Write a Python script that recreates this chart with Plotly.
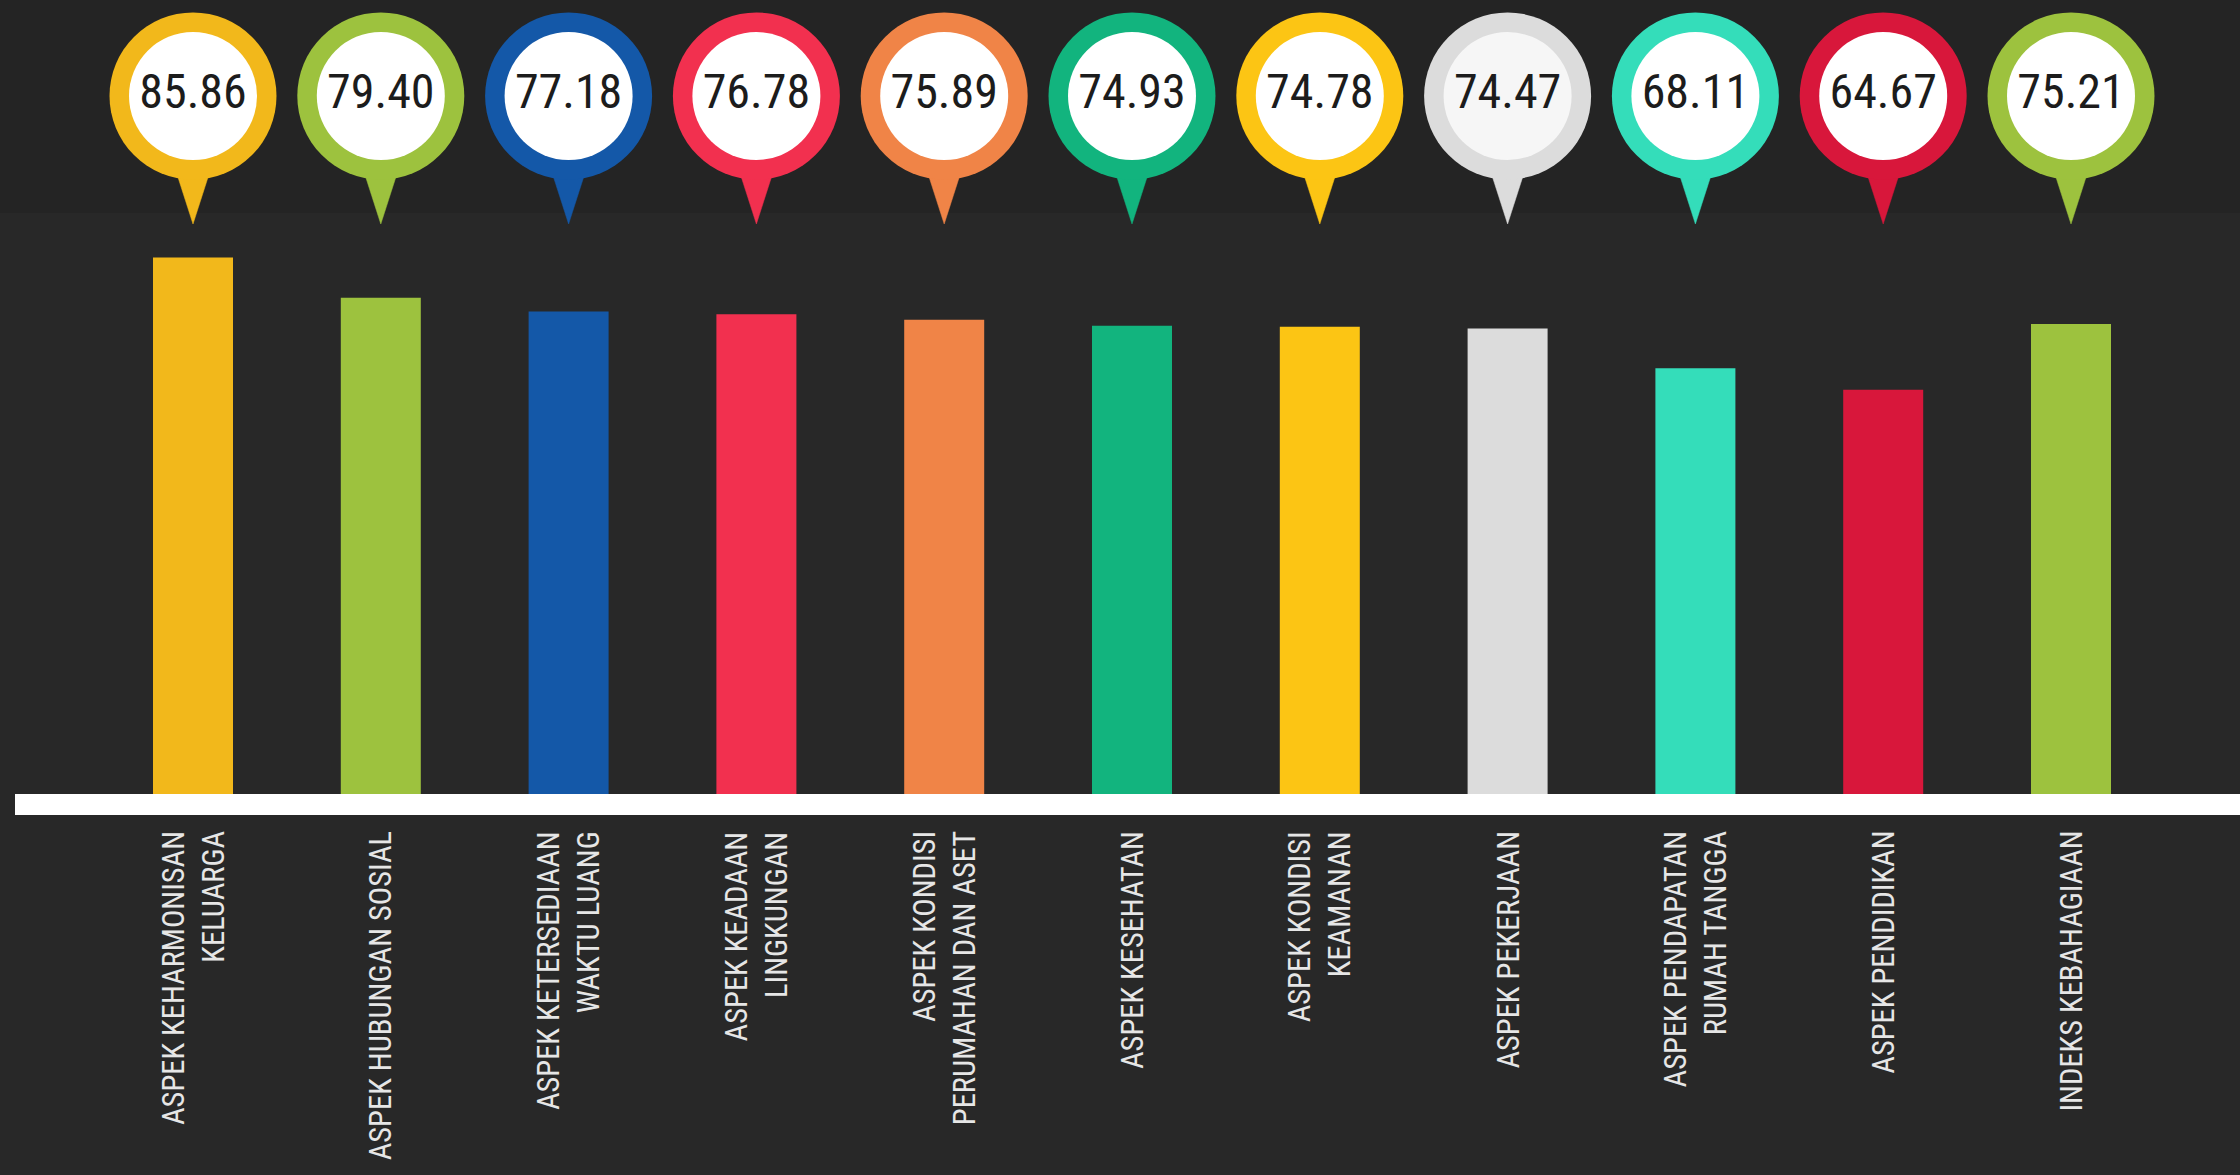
import plotly.graph_objects as go

# ---- data ----
categories = [
    "ASPEK KEHARMONISAN<br>KELUARGA",
    "ASPEK HUBUNGAN SOSIAL",
    "ASPEK KETERSEDIAAN<br>WAKTU LUANG",
    "ASPEK KEADAAN<br>LINGKUNGAN",
    "ASPEK KONDISI<br>PERUMAHAN DAN ASET",
    "ASPEK KESEHATAN",
    "ASPEK KONDISI<br>KEAMANAN",
    "ASPEK PEKERJAAN",
    "ASPEK PENDAPATAN<br>RUMAH TANGGA",
    "ASPEK PENDIDIKAN",
    "INDEKS KEBAHAGIAAN",
]
values = [85.86, 79.40, 77.18, 76.78, 75.89, 74.93, 74.78, 74.47, 68.11, 64.67, 75.21]
value_labels = ["85.86", "79.40", "77.18", "76.78", "75.89", "74.93", "74.78", "74.47", "68.11", "64.67", "75.21"]
colors = ["#F2B81B", "#9DC23E", "#1458A8", "#F2304F", "#F08447", "#12B47E",
          "#FCC514", "#DCDCDC", "#34DDBA", "#D8173B", "#9DC23E"]

# ---- style / geometry constants ----
W, H = 2240, 1175
PX_PER_CAT = 187.8          # pixel distance between bars
FIRST_X_PX = 193            # pixel x of first bar centre
ZERO_Y_PX = 794             # pixel y of value 0
PX_PER_UNIT = 6.25          # pixels per value unit
BG = "#282828"
COND = "Liberation Sans Narrow, Roboto Condensed, DejaVu Sans Condensed, Arial Narrow, sans-serif"

x_range = [-FIRST_X_PX / PX_PER_CAT, (W - FIRST_X_PX) / PX_PER_CAT]
y_range = [-(H - ZERO_Y_PX) / PX_PER_UNIT, ZERO_Y_PX / PX_PER_UNIT]


def py(px):
    """pixel y -> data y"""
    return (ZERO_Y_PX - px) / PX_PER_UNIT


xs = list(range(len(categories)))
pin_y = py(96)
tail_base_y = py(168)
tail_tip_y = py(224)
tail_half = 18 / PX_PER_CAT

fig = go.Figure()

# bars
fig.add_trace(go.Bar(
    x=xs, y=values, width=80 / PX_PER_CAT,
    marker=dict(color=colors, line=dict(width=0)),
    hoverinfo="skip", showlegend=False,
))

# pin tails
for x, c in zip(xs, colors):
    fig.add_trace(go.Scatter(
        x=[x - tail_half, x + tail_half, x, x - tail_half],
        y=[tail_base_y, tail_base_y, tail_tip_y, tail_base_y],
        mode="lines", fill="toself", fillcolor=c,
        line=dict(color=c, width=0.5),
        hoverinfo="skip", showlegend=False,
    ))

# pin heads (outer ring)
fig.add_trace(go.Scatter(
    x=xs, y=[pin_y] * len(xs), mode="markers",
    marker=dict(size=167, color=colors, line=dict(width=0)),
    hoverinfo="skip", showlegend=False,
))
# inner white disc with value text
inner_colors = ["#FFFFFF" if c != "#DCDCDC" else "#F6F6F6" for c in colors]
fig.add_trace(go.Scatter(
    x=xs, y=[pin_y] * len(xs), mode="markers+text",
    marker=dict(size=128, color=inner_colors, line=dict(width=0)),
    text=value_labels, textposition="middle center",
    textfont=dict(family=COND, size=48, color="#1C1C1C"),
    hoverinfo="skip", showlegend=False,
))

# category labels (rotated)
for x, lab in zip(xs, categories):
    fig.add_annotation(
        x=x, y=py(829), xref="x", yref="y",
        text=lab, textangle=-90, showarrow=False,
        xanchor="center", yanchor="top", align="right",
        font=dict(family=COND, size=30.5, color="#E6E6E6"),
    )

# top band and white baseline
fig.add_shape(type="rect", xref="paper", yref="paper",
              x0=0, x1=1, y0=1 - 213 / H, y1=1,
              fillcolor="#242424", line=dict(width=0), layer="below")
fig.add_shape(type="rect", xref="paper", yref="y",
              x0=15 / W, x1=1, y0=py(815), y1=0,
              fillcolor="#FFFFFF", line=dict(width=0), layer="above")

fig.update_layout(
    width=W, height=H,
    margin=dict(l=0, r=0, t=0, b=0),
    paper_bgcolor=BG, plot_bgcolor=BG,
    xaxis=dict(range=x_range, visible=False, fixedrange=True),
    yaxis=dict(range=y_range, visible=False, fixedrange=True),
    showlegend=False,
)

fig.write_html("out.html", config={"displayModeBar": False},
               post_script="document.body.style.margin='0';")
